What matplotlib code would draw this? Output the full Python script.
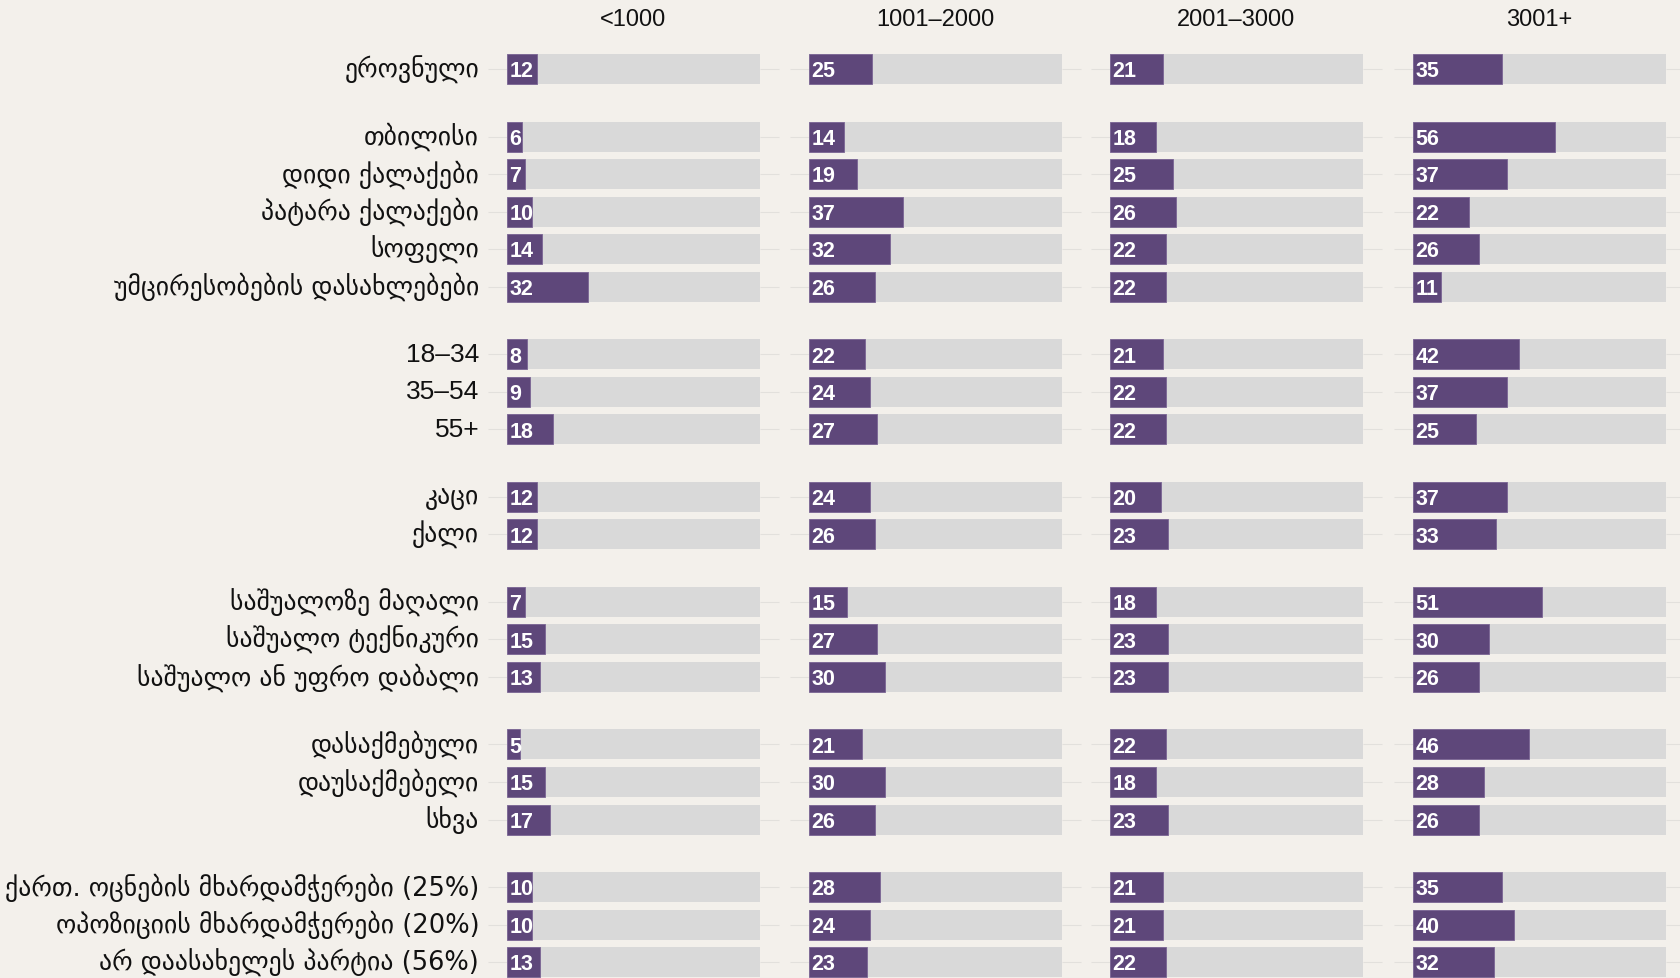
import matplotlib as mpl
mpl.use('Agg')
import matplotlib.pyplot as plt
from matplotlib import font_manager

# which narrow font is around
names = set(f.name for f in font_manager.fontManager.ttflist)
narrow = 'Liberation Sans Narrow' if 'Liberation Sans Narrow' in names else 'Liberation Sans'

columns = ['<1000', '1001–2000', '2001–3000', '3001+']

groups = [
    ['ეროვნული'],
    ['თბილისი', 'დიდი ქალაქები', 'პატარა ქალაქები', 'სოფელი', 'უმცირესობების დასახლებები'],
    ['18–34', '35–54', '55+'],
    ['კაცი', 'ქალი'],
    ['საშუალოზე მაღალი', 'საშუალო ტექნიკური', 'საშუალო ან უფრო დაბალი'],
    ['დასაქმებული', 'დაუსაქმებელი', 'სხვა'],
    ['ქართ. ოცნების მხარდამჭერები (25%)', 'ოპოზიციის მხარდამჭერები (20%)', 'არ დაასახელეს პარტია (56%)'],
]

under_1000 = [12, 6, 7, 10, 14, 32, 8, 9, 18, 12, 12, 7, 15, 13, 5, 15, 17, 10, 10, 13]
from_1001 = [25, 14, 19, 37, 32, 26, 22, 24, 27, 24, 26, 15, 27, 30, 21, 30, 26, 28, 24, 23]
from_2001 = [21, 18, 25, 26, 22, 22, 21, 22, 22, 20, 23, 18, 23, 23, 22, 18, 23, 21, 21, 22]
over_3000 = [35, 56, 37, 22, 26, 11, 42, 37, 25, 37, 33, 51, 30, 26, 46, 28, 26, 35, 40, 32]
values = [under_1000, from_1001, from_2001, over_3000]

bg = '#f3f0eb'
grey = '#d9d9d9'
purple = '#5e477a'

# row positions, bigger step between groups
labels = []
ypos = []
y = 0.0
for gi, g in enumerate(groups):
    if gi > 0:
        y += 0.8
    for lab in g:
        labels.append(lab)
        ypos.append(y)
        y += 1
ytop = -69.6 / 37.5
ybot = (978 - 69.6) / 37.5

fig = plt.figure(figsize=(16.8, 9.785), dpi=100)
fig.patch.set_facecolor(bg)

lefts = [507, 809, 1110, 1413]
for i in range(4):
    ax = fig.add_axes([lefts[i] / 1680, 0, 253 / 1680, 1])
    ax.set_facecolor(bg)
    ax.barh(ypos, [100] * len(ypos), height=0.8, color=grey, zorder=1)
    ax.barh(ypos, values[i], height=0.8, color=purple, edgecolor='#7a6594', linewidth=0.6, zorder=2)
    for yy, v in zip(ypos, values[i]):
        ax.text(0.9, yy + 0.06, str(v), color='white', fontsize=15.5, fontweight='bold',
                family=[narrow, 'DejaVu Sans'], va='center', ha='left', zorder=3)
    ax.set_xlim(0, 100)
    ax.set_ylim(ybot, ytop)
    for s in ax.spines.values():
        s.set_visible(False)
    ax.set_xticks([])
    ax.set_yticks(ypos)
    ax.tick_params(axis='y', length=14, color='#e2e0dc', width=0.8, left=True, right=True,
                   labelleft=False, labelright=False)
    ax.text(50, (20 - 69.6) / 37.5, columns[i], ha='center', va='center', fontsize=17,
            family=[narrow, 'DejaVu Sans'], color='#111111')
    if i == 0:
        for yy, lab in zip(ypos, labels):
            if lab[0].isdigit():
                ax.text(-11, yy, lab, ha='right', va='center', fontsize=19,
                        family=[narrow, 'DejaVu Sans'], color='#111111')
            else:
                ax.text(-11, yy, lab, ha='right', va='center', fontsize=18.5,
                        family=['DejaVu Sans'], color='#111111')

fig.savefig('out.png', dpi=100, facecolor=bg)
